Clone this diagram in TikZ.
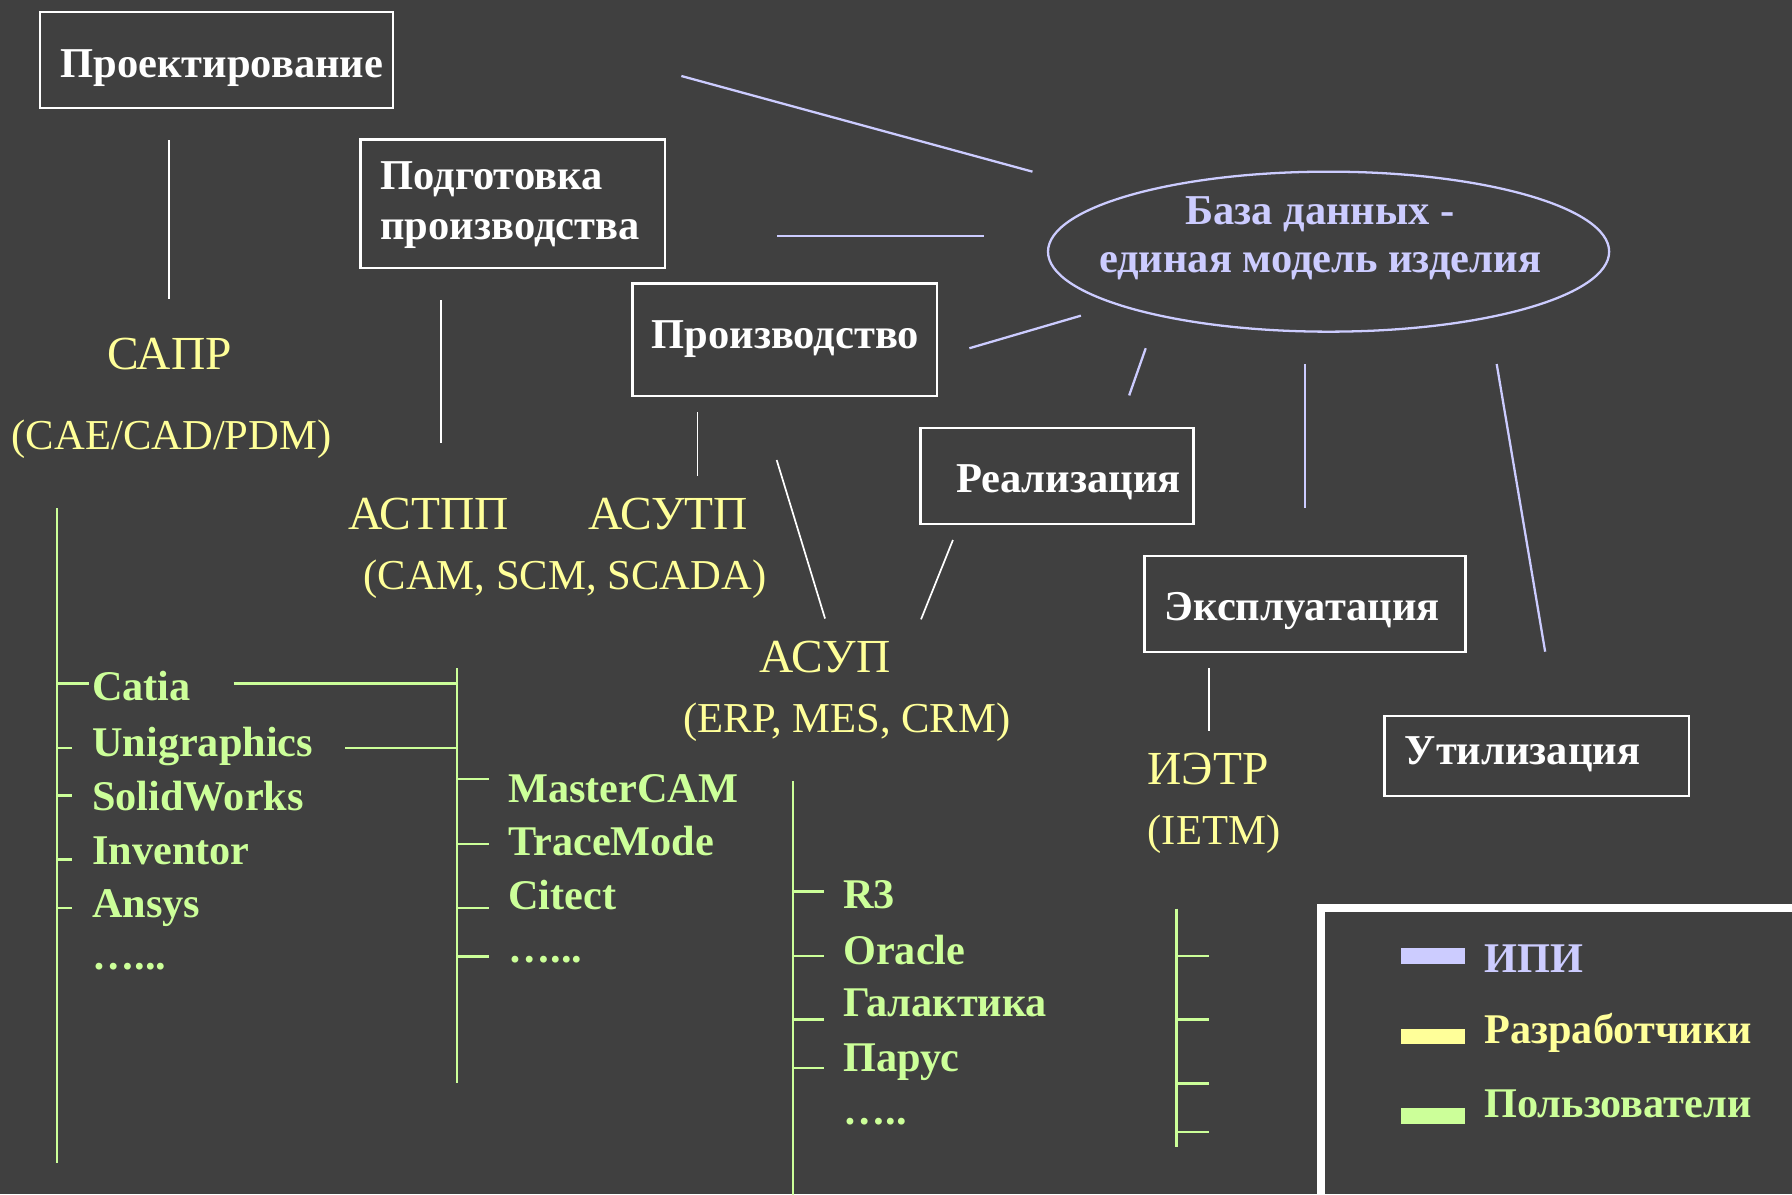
\documentclass[tikz,border=0pt]{standalone}
\usepackage{fontspec}
\setmainfont{Liberation Serif}
\usetikzlibrary{shapes.geometric}
\definecolor{bg}{HTML}{404040}
\definecolor{ipi}{HTML}{CCCCFF}
\definecolor{dev}{HTML}{FFFF99}
\definecolor{usr}{HTML}{CCFF99}
\begin{document}
\begin{tikzpicture}[x=1pt,y=-1pt,
  box/.style={draw=white, line width=2pt, inner sep=0pt},
  btxt/.style={text=white, font=\fontsize{37.2}{40}\selectfont\bfseries, inner sep=0pt, anchor=base west},
  dbtxt/.style={text=ipi, font=\fontsize{37.2}{40}\selectfont\bfseries, inner sep=0pt, anchor=base},
  ybig/.style={text=dev, font=\fontsize{41.5}{44}\selectfont, inner sep=0pt, anchor=base},
  ysmall/.style={text=dev, font=\fontsize{37.3}{40}\selectfont, inner sep=0pt, anchor=base},
  gtxt/.style={text=usr, font=\fontsize{37}{40}\selectfont\bfseries, inner sep=0pt, anchor=base west},
  ltxt/.style={font=\fontsize{37}{40}\selectfont\bfseries, inner sep=0pt, anchor=base west},
  ipiline/.style={draw=ipi, line width=2pt},
  wline/.style={draw=white, line width=1.5pt},
  gline/.style={draw=usr, line width=2pt},
]
\useasboundingbox (0,0) rectangle (1568,1045);
\fill[bg] (0,0) rectangle (1568,1045);

% boxes
\node[box, minimum width=308.8, minimum height=84.6] (proj) at (189.6,52.5) {};
\node[box, minimum width=266.3, minimum height=112.5] (podg) at (448.55,178.25) {};
\node[box, minimum width=266.5, minimum height=98.5] (proiz) at (686.75,297.25) {};
\node[box, minimum width=238.9, minimum height=84.5] (real) at (924.85,416.55) {};
\node[box, minimum width=280.7, minimum height=84.5] (expl) at (1141.85,528.55) {};
\node[box, minimum width=266.3, minimum height=70.3] (util) at (1344.65,661.55) {};

\node[btxt] (projt) at (52.8,67.7) {Проектирование};
\node[btxt] (podgt1) at (332.6,165.6) {Подготовка};
\node[btxt] (podgt2) at (332.6,209.4) {производства};
\node[btxt] (proizt) at (570,304.8) {Производство};
\node[btxt] (realt) at (836.3,430.5) {Реализация};
\node[btxt] (explt) at (1019,542.5) {Эксплуатация};
\node[btxt] (utilt) at (1229,669.2) {Утилизация};

% database ellipse
\node[ellipse, draw=ipi, line width=2pt, minimum width=491, minimum height=140, inner sep=0pt] (db) at (1162.5,220.2) {};
\node[dbtxt] (dbt1) at (1155,196.6) {База данных -};
\node[dbtxt] (dbt2) at (1155,238.7) {единая модель изделия};

% lavender connectors
\coordinate (a1) at (596.2,66.5);  \coordinate (b1) at (903.4,150.2);
\coordinate (a2) at (680,206.5);   \coordinate (b2) at (861.2,206.5);
\coordinate (a3) at (848.2,304.7); \coordinate (b3) at (945.8,276.2);
\coordinate (a4) at (1002.5,304.7); \coordinate (b4) at (988,346);
\coordinate (a5) at (1141.9,318.5); \coordinate (b5) at (1141.9,444.3);
\coordinate (a6) at (1309.6,318.5); \coordinate (b6) at (1352,570.2);
\draw[ipiline] (a1) -- (b1);
\draw[ipiline] (a2) -- (b2);
\draw[ipiline] (a3) -- (b3);
\draw[ipiline] (a4) -- (b4);
\draw[ipiline] (a5) -- (b5);
\draw[ipiline] (a6) -- (b6);

% yellow texts
\node[ybig] (sapr) at (148.5,323.2) {САПР};
\node[ysmall] (sapr2) at (150.2,393.2) {(CAE/CAD/PDM)};
\node[ybig] (astpp) at (375,463.5) {АСТПП};
\node[ybig] (asutp) at (584.5,463.5) {АСУТП};
\node[ysmall] (cam) at (494.3,515.4) {(CAM, SCM, SCADA)};
\node[ybig] (asup) at (722,588.6) {АСУП};
\node[ysmall] (erp) at (741,641) {(ERP, MES, CRM)};
\node[ybig, anchor=base west] (ietr) at (1004,686.7) {ИЭТР};
\node[ysmall, anchor=base west] (ietm) at (1004,738.8) {(IETM)};

% white connectors
\coordinate (w1a) at (147.7,122.5); \coordinate (w1b) at (147.7,262);
\coordinate (w2a) at (385.8,262.5); \coordinate (w2b) at (385.8,388);
\coordinate (w3a) at (610.3,360.8); \coordinate (w3b) at (610.3,416.2);
\coordinate (w4a) at (679.6,402.5); \coordinate (w4b) at (721.9,541.2);
\coordinate (w5a) at (833.8,472.5); \coordinate (w5b) at (805.9,541.9);
\coordinate (w6a) at (1057.8,584.8); \coordinate (w6b) at (1057.8,640);
\draw[wline] (w1a) -- (w1b);
\draw[wline] (w2a) -- (w2b);
\draw[wline] (w3a) -- (w3b);
\draw[wline] (w4a) -- (w4b);
\draw[wline] (w5a) -- (w5b);
\draw[wline] (w6a) -- (w6b);

% green lists
\node[gtxt] (catia) at (80.5,613) {Catia};
\node[gtxt] (ug) at (80.5,661.6) {Unigraphics};
\node[gtxt] (sw) at (80.5,709.4) {SolidWorks};
\node[gtxt] (inv) at (80.5,756.3) {Inventor};
\node[gtxt] (ans) at (80.5,802.8) {Ansys};
\node[gtxt] (d1) at (80.5,848.5) {…...};

\node[gtxt] (mcam) at (444.5,702.3) {MasterCAM};
\node[gtxt] (trm) at (444.5,748.8) {TraceMode};
\node[gtxt] (cit) at (444.5,795.4) {Citect};
\node[gtxt] (d2) at (444.5,842.3) {…...};

\node[gtxt] (r3) at (737.6,795.1) {R3};
\node[gtxt] (ora) at (737.6,843.8) {Oracle};
\node[gtxt] (gal) at (737.6,889.6) {Галактика};
\node[gtxt] (par) at (737.6,937.7) {Парус};
\node[gtxt] (d3) at (737.6,984) {…..};

% green tree lines
\draw[gline] (50,444.5) -- (50,1018);
\draw[gline] (50,598) -- (78,598);
\foreach \yy in {654.5,696,752,794.5} \draw[gline] (50,\yy) -- (63,\yy);
\draw[gline] (204.4,598) -- (400,598);
\draw[gline] (301.9,654.5) -- (400,654.5);
\draw[gline] (400,584.6) -- (400,948);
\foreach \yy in {681.6,738.6,794.6,837} \draw[gline] (400,\yy) -- (428,\yy);
\draw[gline] (693.7,683.5) -- (693.7,1060);
\foreach \yy in {780,836.6,892,934.6} \draw[gline] (693.7,\yy) -- (721,\yy);
\draw[gline] (1029.5,795) -- (1029.5,1003.6);
\foreach \yy in {836.6,892,948,990.6} \draw[gline] (1029.5,\yy) -- (1057.5,\yy);

% legend
\draw[white, line width=7.3pt] (1155.8,1080) -- (1155.8,794.5) -- (1600,794.5);
\fill[ipi] (1225.9,829.5) rectangle (1281.9,843.5);
\fill[dev] (1225.9,900.6) rectangle (1281.9,913.5);
\fill[usr] (1225.9,969.5) rectangle (1281.9,983.5);
\node[ltxt, text=ipi] (lg1) at (1298.7,850.5) {ИПИ};
\node[ltxt, text=dev] (lg2) at (1298.7,912.7) {Разработчики};
\node[ltxt, text=usr] (lg3) at (1298.7,977.4) {Пользователи};
\end{tikzpicture}
\end{document}
